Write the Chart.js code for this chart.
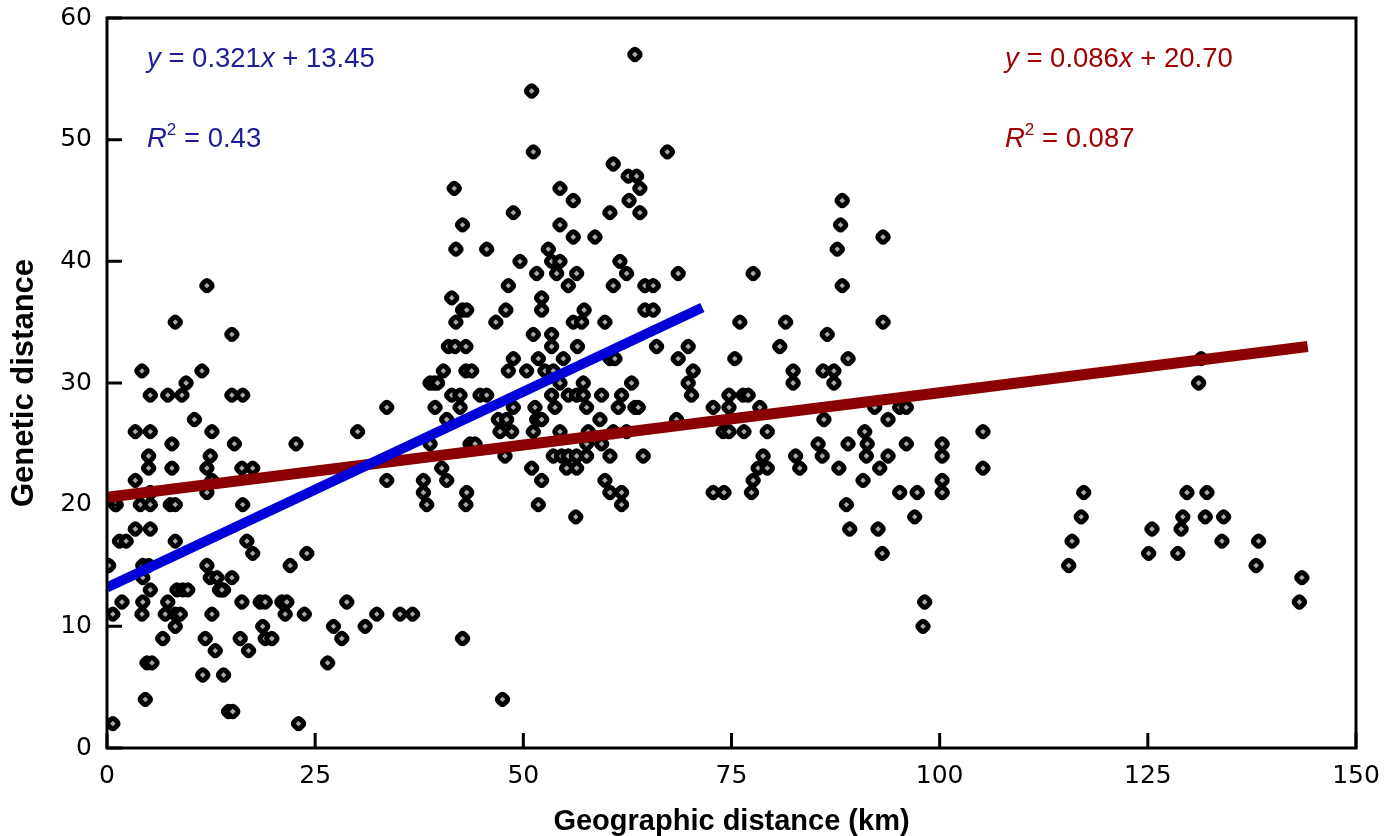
<!DOCTYPE html>
<html>
<head>
<meta charset="utf-8">
<script src="https://cdn.jsdelivr.net/npm/chart.js@4.4.1/dist/chart.umd.min.js"></script>
<style>
    html, body { margin: 0; padding: 0; background: #fff; }
</style>
</head>
<body>
<canvas id="myChart" width="1395" height="836"></canvas>
<script>
// geographic distance (km) and genetic distance for each pair
const geoKm = [
    // 0 - 37 km
    0.2, 0.7, 0.7, 1.1, 1.8, 1.5, 2.3, 3.4, 5.2, 4.3, 5.0, 4.3, 5.2, 4.3, 4.2, 7.3, 7.0, 8.2, 8.8, 8.4,
    9.1, 9.7, 8.2, 6.7, 8.2, 4.8, 5.4, 4.6, 12.0, 12.4, 13.2, 15.0, 13.5, 14.0, 12.6, 11.8, 13.0, 11.5, 14.0, 14.6,
    15.1, 16.0, 17.0, 16.2, 18.4, 19.0, 18.7, 19.0, 19.8, 21.0, 21.6, 21.4, 22.0, 24.0, 23.7, 23.0, 27.2, 28.2, 26.5, 28.8,
    31.0, 32.4, 35.2, 36.7, 16.8, 17.5, 13.8,
    12.0, 8.2, 15.0, 4.2, 11.4, 9.5, 5.2, 7.3, 9.0, 15.0, 16.3, 10.5, 3.4, 5.2, 12.6, 7.8, 15.3, 5.0, 12.4, 5.0,
    7.8, 12.0, 16.2, 17.5, 3.4, 5.2, 12.6, 12.0, 1.0, 4.0, 5.2, 7.6, 8.2, 16.3, 33.6, 30.1, 22.7, 33.6,
    // 38 - 72 km
    60.8, 62.6, 63.6, 64.0, 41.7, 54.4, 56.0, 62.7, 48.8, 60.4, 64.0, 42.7, 54.4, 56.0, 58.6, 41.9, 45.6, 53.0, 53.4, 54.4,
    49.6, 61.6, 51.6, 54.0, 56.4, 62.4, 68.6, 48.2, 55.4, 60.8, 64.6, 65.6, 41.4, 52.2, 52.2, 42.7, 43.2, 41.9, 47.9, 46.7,
    56.0, 57.0, 57.3, 59.8, 64.6, 65.6, 51.2, 53.4, 53.4, 56.5, 41.0, 41.8, 43.1, 66.0, 69.8, 48.8, 48.2, 51.8, 54.8, 60.4,
    61.0, 68.6, 40.4, 43.1, 43.8, 50.4, 52.6, 53.6, 70.4, 38.8, 39.3, 39.7, 57.2, 63.0, 69.8, 54.4, 41.4, 42.4, 44.8, 45.6,
    53.4, 55.4, 56.4, 57.2, 59.4, 61.8, 70.2, 39.4, 42.4, 48.8, 51.4, 53.8, 57.6, 61.4, 63.4, 63.8, 40.8, 47.0, 48.0, 51.6,
    52.2, 59.2, 68.4, 47.2, 48.6, 51.2, 54.4, 57.8, 60.8, 62.4, 38.8, 43.6, 44.2, 57.6, 59.4, 53.6, 54.6, 55.4, 56.4, 57.6,
    60.4, 64.4, 47.8, 40.2, 51.0, 55.2, 56.4, 38.0, 40.8, 52.2, 59.8, 38.0, 43.2, 60.4, 61.8, 38.4, 43.1, 51.8, 61.8, 56.3,
    63.4, 51.0, 51.2, 67.3, 42.7, 47.5,
    // 72 - 106 km
    88.3, 88.1, 87.7, 88.3, 93.2, 93.2, 77.6, 76.0, 81.5, 86.5, 80.8, 75.4, 89.0, 82.4, 82.4, 86.0, 87.3, 87.3, 72.8, 74.7,
    76.4, 77.0, 74.7, 78.4, 74.0, 74.7, 76.5, 79.3, 78.8, 78.2, 79.3, 77.6, 77.4, 72.8, 74.1, 82.7, 83.2, 85.4, 85.9, 86.1,
    87.9, 89.0, 91.0, 91.3, 91.2, 90.8, 92.2, 95.2, 96.0, 93.8, 88.8, 89.2, 92.6, 93.1, 96.0, 93.8, 92.8, 95.2, 97.3, 97.0,
    100.3, 100.3, 100.3, 100.3, 105.2, 105.2, 98.2, 98.0,
    // 115 - 145 km
    131.1, 131.4, 117.3, 117.0, 115.9, 115.5, 125.5, 125.1, 129.7, 132.1, 129.2, 131.9, 134.1, 129.0, 128.6, 133.9, 138.3, 138.0, 143.5, 143.2
];

const geneticDist = [
    15, 2, 11, 20, 12, 17, 17, 18, 18, 15, 15, 14, 13, 12, 11, 12, 11, 11, 11, 13,
    13, 13, 10, 9, 17, 7, 7, 4, 15, 14, 14, 14, 13, 13, 11, 9, 8, 6, 6, 3,
    3, 9, 8, 12, 12, 12, 10, 9, 9, 12, 12, 11, 15, 16, 11, 2, 10, 9, 7, 12,
    10, 11, 11, 11, 17, 16, 13,
    38, 35, 34, 31, 31, 30, 29, 29, 29, 29, 29, 27, 26, 26, 26, 25, 25, 24, 24, 23,
    23, 23, 23, 23, 22, 21, 22, 21, 20, 20, 20, 20, 20, 20, 28, 26, 25, 22,
    48, 47, 47, 46, 46, 46, 45, 45, 44, 44, 44, 43, 43, 42, 42, 41, 41, 41, 40, 40,
    40, 40, 39, 39, 39, 39, 39, 38, 38, 38, 38, 38, 37, 37, 36, 36, 36, 35, 36, 35,
    35, 35, 36, 35, 36, 36, 34, 34, 33, 33, 33, 33, 33, 33, 33, 32, 31, 32, 32, 32,
    32, 32, 31, 31, 31, 31, 31, 31, 31, 30, 30, 30, 30, 30, 30, 30, 29, 29, 29, 29,
    29, 29, 29, 29, 29, 29, 29, 28, 28, 28, 28, 28, 28, 28, 28, 28, 27, 27, 27, 27,
    27, 27, 27, 26, 26, 26, 26, 26, 26, 26, 25, 25, 25, 25, 25, 24, 24, 24, 24, 24,
    24, 24, 24, 23, 23, 23, 23, 22, 22, 22, 22, 21, 21, 21, 21, 20, 20, 20, 20, 19,
    57, 54, 49, 49, 9, 4,
    45, 43, 41, 38, 42, 35, 39, 35, 35, 34, 33, 32, 32, 31, 30, 31, 31, 30, 28, 29,
    29, 29, 28, 28, 26, 26, 26, 26, 24, 23, 23, 22, 21, 21, 21, 24, 23, 25, 24, 27,
    23, 25, 26, 25, 24, 22, 28, 28, 28, 27, 20, 18, 18, 16, 25, 24, 23, 21, 21, 19,
    25, 24, 22, 21, 26, 23, 12, 10,
    30, 32, 21, 19, 17, 15, 18, 16, 21, 21, 19, 19, 19, 18, 16, 17, 17, 15, 14, 12
];

// regression lines, end points
const blueFitX = [0, 71.5];
const blueFitY = [13.2, 36.2];
const redFitX = [0, 144.2];
const redFitY = [20.6, 33.0];

const xTickStep = 25;
const yTickStep = 10;

const points = geoKm.map((x, i) => ({ x: x, y: geneticDist[i] }));
const bluePts = blueFitX.map((x, i) => ({ x: x, y: blueFitY[i] }));
const redPts = redFitX.map((x, i) => ({ x: x, y: redFitY[i] }));

// box round the plot, inward ticks and the two equations
const framePlugin = {
    id: "frame",
    afterDatasetsDraw(chart) {
        const { ctx, chartArea: a, scales } = chart;
        ctx.save();
        ctx.strokeStyle = "#000";
        ctx.lineWidth = 3;
        ctx.strokeRect(a.left, a.top, a.right - a.left, a.bottom - a.top);
        ctx.beginPath();
        scales.x.ticks.forEach(t => {
            const px = scales.x.getPixelForValue(t.value);
            ctx.moveTo(px, a.bottom);
            ctx.lineTo(px, a.bottom - 15);
        });
        scales.y.ticks.forEach(t => {
            const py = scales.y.getPixelForValue(t.value);
            ctx.moveTo(a.left, py);
            ctx.lineTo(a.left + 15, py);
        });
        ctx.stroke();
        ctx.restore();
    },
    afterDraw(chart) {
        const ctx = chart.ctx;
        const a = chart.chartArea;
        ctx.save();
        ctx.textBaseline = "alphabetic";
        writeRich(ctx, a.left + 40, 67, "#1c1c96", [["y", 1], [" = 0.321", 0], ["x", 1], [" + 13.45", 0]]);
        writeRich(ctx, a.left + 40, 147, "#1c1c96", [["R", 1], ["2", 2], [" = 0.43", 0]]);
        writeRich(ctx, a.left + 898, 67, "#a00000", [["y", 1], [" = 0.086", 0], ["x", 1], [" + 20.70", 0]]);
        writeRich(ctx, a.left + 898, 147, "#a00000", [["R", 1], ["2", 2], [" = 0.087", 0]]);
        ctx.restore();
    }
};

function writeRich(ctx, x, y, color, parts) {
    ctx.fillStyle = color;
    parts.forEach(p => {
        const [text, kind] = p;
        let dy = 0;
        if (kind === 1) ctx.font = "italic 27.5px 'Liberation Sans', Arial, sans-serif";
        else if (kind === 2) { ctx.font = "17px 'Liberation Sans', Arial, sans-serif"; dy = -12; }
        else ctx.font = "27.5px 'Liberation Sans', Arial, sans-serif";
        ctx.fillText(text, x, y + dy);
        x += ctx.measureText(text).width;
    });
}

new Chart(document.getElementById("myChart").getContext("2d"), {
    type: "scatter",
    data: {
        datasets: [
            {
                type: "line",
                data: bluePts,
                borderColor: "#0000d8",
                borderWidth: 10,
                borderCapStyle: "butt",
                pointRadius: 0,
                order: 0
            },
            {
                type: "line",
                data: redPts,
                borderColor: "#8b0000",
                borderWidth: 11,
                borderCapStyle: "butt",
                pointRadius: 0,
                order: 1
            },
            {
                data: points,
                pointStyle: "rectRounded",
                pointRotation: 45,
                pointRadius: 5.2,
                pointBorderWidth: 5,
                pointBorderColor: "#000",
                pointBackgroundColor: "#a8a8a8",
                order: 2
            }
        ]
    },
    options: {
        responsive: false,
        animation: false,
        devicePixelRatio: 1,
        layout: { padding: { top: 18, right: 39, left: 0, bottom: 0 } },
        plugins: {
            legend: { display: false },
            tooltip: { enabled: false }
        },
        scales: {
            x: {
                type: "linear",
                min: 0,
                max: 150,
                afterFit: s => { s.height = 88; s.paddingLeft = 0; s.paddingRight = 0; },
                ticks: {
                    stepSize: xTickStep,
                    color: "#000",
                    padding: 13,
                    font: { family: "'DejaVu Sans', Verdana, sans-serif", size: 25 }
                },
                grid: { display: false, drawTicks: false, tickLength: 0 },
                border: { display: false },
                title: {
                    display: true,
                    text: "Geographic distance (km)",
                    color: "#000",
                    padding: { top: 0, bottom: 0 },
                    font: { family: "'Liberation Sans', Arial, sans-serif", size: 29, weight: "bold", lineHeight: 0.95 }
                }
            },
            y: {
                type: "linear",
                min: 0,
                max: 60,
                afterFit: s => { s.width = 107; s.paddingTop = 0; s.paddingBottom = 0; },
                ticks: {
                    stepSize: yTickStep,
                    color: "#000",
                    padding: 15,
                    font: { family: "'DejaVu Sans', Verdana, sans-serif", size: 25 }
                },
                grid: { display: false, drawTicks: false, tickLength: 0 },
                border: { display: false },
                title: {
                    display: true,
                    text: "Genetic distance",
                    color: "#000",
                    padding: { top: 9, bottom: 0 },
                    font: { family: "'Liberation Sans', Arial, sans-serif", size: 31, weight: "bold", lineHeight: 1 }
                }
            }
        }
    },
    plugins: [framePlugin]
});
</script>
</body>
</html>
